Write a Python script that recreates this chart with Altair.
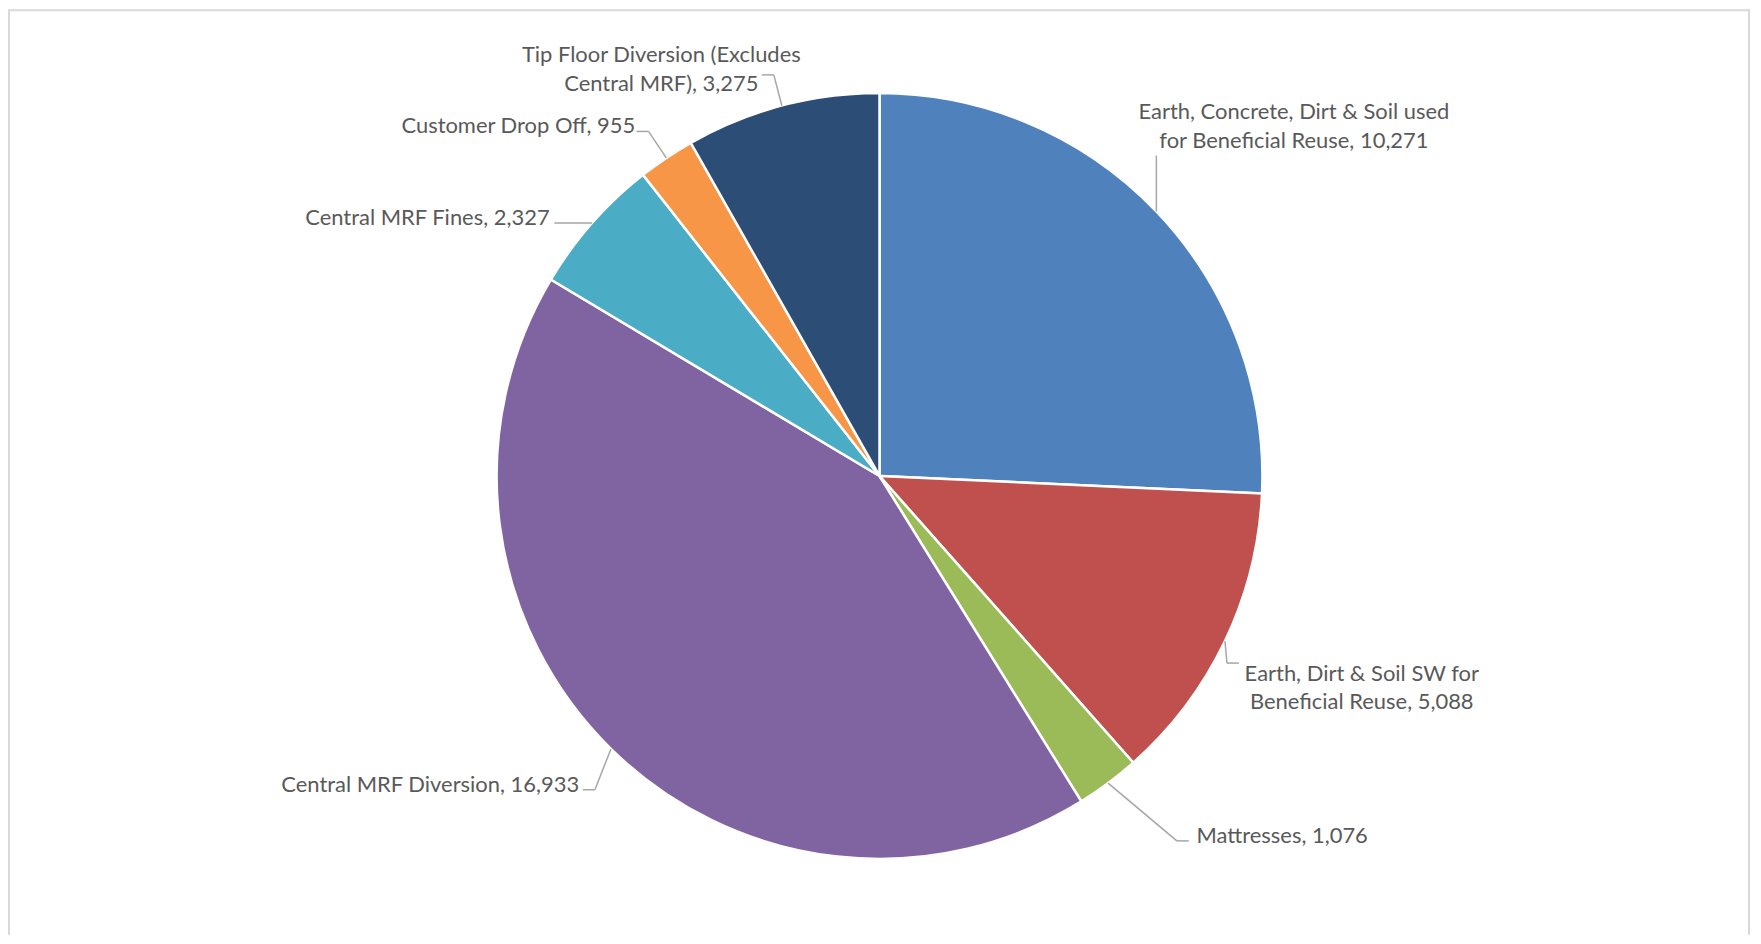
import altair as alt
import pandas as pd
import numpy as np

# ---- data ----
categories = [
    "Earth, Concrete, Dirt & Soil used for Beneficial Reuse",
    "Earth, Dirt & Soil SW for Beneficial Reuse",
    "Mattresses",
    "Central MRF Diversion",
    "Central MRF Fines",
    "Customer Drop Off",
    "Tip Floor Diversion (Excludes Central MRF)",
]
values = [10271, 5088, 1076, 16933, 2327, 955, 3275]
label_lines = [
    ["Earth, Concrete, Dirt & Soil used", "for Beneficial Reuse, 10,271"],
    ["Earth, Dirt & Soil SW for", "Beneficial Reuse, 5,088"],
    ["Mattresses, 1,076"],
    ["Central MRF Diversion, 16,933"],
    ["Central MRF Fines, 2,327"],
    ["Customer Drop Off, 955"],
    ["Tip Floor Diversion (Excludes", "Central MRF), 3,275"],
]
colors = ["#4F81BD", "#C0504D", "#9BBB59", "#8064A2", "#4BACC6", "#F79646", "#2C4D75"]

# ---- layout ----
W, H = 1750, 928
CX, CY = 874, 468
R = 384
LEAD = 32        # radial length of leader line
LEAD_LOW_L = 44  # leader for single-line labels lower left (steeper)
LEAD_LOW_R = 90  # leader for single-line labels lower right (flatter, longer)
HLEAD = 38       # horizontal leader for single-line labels at the side
VLEAD_UP = 56    # vertical leader for labels above the upper-right slice
VLEAD_DN = 22    # vertical leader for wrapped labels beside the lower-right slice
TICK = 12        # horizontal part of leader
GAP = 3
FS = 22
LH = 29
FONT = "Lato"
TEXT_COLOR = "#595959"
LINE_COLOR = "#A6A6A6"
BORDER = "#D9D9D9"


def est_width(s):
    w = 0.0
    for ch in s:
        if ch == " ":
            w += 0.23
        elif ch in ",.()":
            w += 0.27
        elif ch.isdigit():
            w += 0.56
        elif ch.isupper() or ch == "&":
            w += 0.64
        elif ch in "iljf":
            w += 0.27
        elif ch in "mw":
            w += 0.82
        else:
            w += 0.51
    return w * FS


df = pd.DataFrame({"category": categories, "value": values, "idx": range(len(values))})
total = float(sum(values))
cum = np.cumsum(values)
mid = (cum - np.array(values) / 2.0) / total * 2 * np.pi

rows_lead = []
rows_text = []
for i, a in enumerate(mid):
    lines = label_lines[i]
    n = len(lines)
    s, c = np.sin(a), np.cos(a)
    sx, sy = CX + R * s, CY - R * c
    right = s >= 0
    if right and c > 0.6:
        # label above the slice: vertical leader up to the label's bottom-left
        ex, ey = sx, sy - VLEAD_UP
        rows_lead.append({"x": sx, "y": sy, "x2": ex, "y2": ey})
        near = n - 1
        w_near = est_width(lines[near])
        bx = ex + GAP + w_near / 2
        near_y = ey - 29
    elif right and c < 0 and n > 1 and s > 0.8:
        # wrapped label beside lower-right slice: short drop then a tick to its top-left
        ex, ey = sx + 2, sy + VLEAD_DN
        hx = ex + TICK
        rows_lead.append({"x": sx, "y": sy, "x2": ex, "y2": ey})
        rows_lead.append({"x": ex, "y": ey, "x2": hx, "y2": ey})
        near = 0
        w_near = est_width(lines[near])
        bx = hx + GAP + w_near / 2
        near_y = ey - 4
    elif n == 1 and abs(s) > abs(c):
        # single-line label at the side: straight horizontal leader
        hx = sx + HLEAD if right else sx - HLEAD
        rows_lead.append({"x": sx, "y": sy, "x2": hx, "y2": sy})
        near = 0
        w_near = est_width(lines[0])
        bx = hx + GAP + w_near / 2 if right else hx - GAP - w_near / 2
        near_y = sy - 5
    else:
        if c < 0 and n == 1:
            k, lead = (1.6, LEAD_LOW_R) if right else (0.4, LEAD_LOW_L)
            dx, dy = s * k, -c          # outward direction in screen space (y down)
            nrm = np.hypot(dx, dy)
            ex, ey = sx + lead * dx / nrm, sy + lead * dy / nrm
        else:
            ex, ey = CX + (R + LEAD) * s, CY - (R + LEAD) * c
        hx = ex + TICK if right else ex - TICK
        rows_lead.append({"x": sx, "y": sy, "x2": ex, "y2": ey})
        rows_lead.append({"x": ex, "y": ey, "x2": hx, "y2": ey})
        near = n - 1 if c > 0 else 0
        w_near = est_width(lines[near])
        bx = hx + GAP + w_near / 2 if right else hx - GAP - w_near / 2
        near_y = ey - 5
    top_y = near_y - near * LH
    rows_text.append({"tx": bx, "ty": top_y + (n - 1) * LH / 2.0, "label": lines})

lead_df = pd.DataFrame(rows_lead)
text_df = pd.DataFrame(rows_text)

xs = alt.Scale(domain=[0, W], nice=False, zero=False)
ys = alt.Scale(domain=[0, H], nice=False, zero=False, reverse=True)

pie = alt.Chart(df).mark_arc(outerRadius=R, stroke="white", strokeWidth=2.5).encode(
    theta=alt.Theta("value:Q", stack=True),
    color=alt.Color("category:N", scale=alt.Scale(domain=categories, range=colors), legend=None),
    order=alt.Order("idx:Q"),
    x=alt.value(CX),
    y=alt.value(CY),
)

leaders = alt.Chart(lead_df).mark_rule(color=LINE_COLOR, strokeWidth=1.5).encode(
    x=alt.X("x:Q", scale=xs, axis=None),
    y=alt.Y("y:Q", scale=ys, axis=None),
    x2="x2:Q",
    y2="y2:Q",
)

labels = alt.Chart(text_df).mark_text(
    font=FONT, fontSize=FS, color=TEXT_COLOR, align="center", baseline="middle", lineHeight=LH
).encode(
    x=alt.X("tx:Q", scale=xs, axis=None),
    y=alt.Y("ty:Q", scale=ys, axis=None),
    text="label",
)

border_df = pd.DataFrame({"k": [0]})
b_left = alt.Chart(border_df).mark_rule(color=BORDER, strokeWidth=2).encode(
    x=alt.value(1), y=alt.value(0), y2=alt.value(H))
b_right = alt.Chart(border_df).mark_rule(color=BORDER, strokeWidth=2).encode(
    x=alt.value(1746), y=alt.value(0), y2=alt.value(H))
b_top = alt.Chart(border_df).mark_rule(color=BORDER, strokeWidth=2).encode(
    x=alt.value(0), x2=alt.value(1747), y=alt.value(1))

chart = alt.layer(pie, leaders, labels, b_left, b_right, b_top).properties(
    width=W, height=H, padding=0, autosize=alt.AutoSizeParams(type="none")
).configure(background="white", view=alt.ViewConfig(stroke=None))

chart.save("out.html", embed_options={"renderer": "svg", "actions": False})
